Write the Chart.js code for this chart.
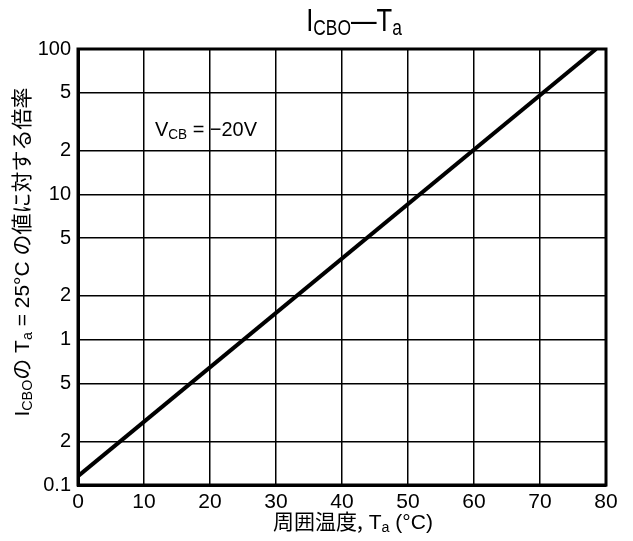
<!DOCTYPE html>
<html><head><meta charset="utf-8">
<script src="https://cdn.jsdelivr.net/npm/chart.js@4/dist/chart.umd.min.js"></script>
<style>html,body{margin:0;padding:0;background:#fff}#wrap{width:633px;height:541px}</style>
</head><body><div id="wrap"><canvas id="c" width="633" height="541"></canvas></div>
<script>
const tempC = [0, 78.5];
const ratio = [0.115, 100];
const xTicks = [0, 10, 20, 30, 40, 50, 60, 70, 80];
const yTickValues = [0.1, 0.2, 0.5, 1, 2, 5, 10, 20, 50, 100];
const yTickLabels = ['0.1', '2', '5', '1', '2', '5', '10', '2', '5', '100'];

const NUMF = '"Liberation Sans Narrow","Liberation Sans",Arial,sans-serif';
const JPF = '"Noto Sans CJK JP","Liberation Sans",sans-serif';

function drawRich(ctx, parts, x, y, size, font, align, sx) {
  sx = sx || 1;
  let w = 0;
  const measured = parts.map(p => {
    const s = p.sub ? size * 0.68 : size;
    ctx.font = s + 'px ' + (p.font || font);
    const mw = ctx.measureText(p.t).width;
    w += mw;
    return {p, s, mw};
  });
  ctx.save();
  ctx.translate(x, y);
  ctx.scale(sx, 1);
  let cx = align === 'center' ? -w / 2 : 0;
  ctx.textBaseline = 'alphabetic';
  ctx.textAlign = 'left';
  for (const m of measured) {
    ctx.font = m.s + 'px ' + (m.p.font || font);
    ctx.fillText(m.p.t, cx, (m.p.sub ? size * 0.12 : 0));
    cx += m.mw;
  }
  ctx.restore();
}

const textPlugin = {
  id: 'texts',
  afterDraw(chart) {
    const ctx = chart.ctx;
    ctx.save();
    ctx.fillStyle = '#000';
    drawRich(ctx, [{t:'I'},{t:'CBO',sub:true},{t:'—T'},{t:'a',sub:true}], 354, 31, 32, NUMF, 'center', 0.8);
    drawRich(ctx, [{t:'V'},{t:'CB',sub:true},{t:' = −20V'}], 155, 136, 21, NUMF, 'left', 0.95);
    drawRich(ctx, [{t:'周囲温度,',font:JPF},{t:' T'},{t:'a',sub:true},{t:' (°C)'}], 353, 529, 21, NUMF, 'center');
    ctx.translate(29, 252);
    ctx.rotate(-Math.PI / 2);
    drawRich(ctx, [{t:'I'},{t:'CBO',sub:true},{t:'の',font:JPF},{t:' T'},{t:'a',sub:true},{t:' = 25°C ',font:NUMF},{t:'の値に対する倍率',font:JPF}], 0, 0, 21, NUMF, 'center');
    ctx.restore();
  }
};

new Chart(document.getElementById('c'), {
  type: 'line',
  data: {
    datasets: [{
      data: tempC.map((x, i) => ({x, y: ratio[i]})),
      borderColor: '#000',
      borderWidth: 4,
      pointRadius: 0,
      fill: false,
      tension: 0
    }]
  },
  options: {
    responsive: false,
    animation: false,
    layout: {padding: {left: 0, right: 27, top: 49, bottom: 0}},
    plugins: {legend: {display: false}, tooltip: {enabled: false}},
    scales: {
      x: {
        type: 'linear', min: 0, max: 80,
        afterBuildTicks: s => { s.ticks = xTicks.map(v => ({value: v})); },
        afterFit: s => { s.height = 56; },
        grid: {color: '#000', lineWidth: 1.5, drawTicks: false},
        border: {color: '#000', width: 3},
        ticks: {color: '#000', font: {family: NUMF, size: 21}, padding: 5, maxRotation: 0, callback: v => String(v)}
      },
      y: {
        type: 'logarithmic', min: 0.1, max: 100,
        afterBuildTicks: s => { s.ticks = yTickValues.map(v => ({value: v})); },
        afterFit: s => { s.width = 78; },
        grid: {color: '#000', lineWidth: 1.5, drawTicks: false},
        border: {color: '#000', width: 3},
        ticks: {color: '#000', font: {family: NUMF, size: 20}, padding: 7,
          callback: (v) => { const i = yTickValues.findIndex(t => Math.abs(t - v) / t < 1e-6); return i >= 0 ? yTickLabels[i] : ''; }}
      }
    }
  },
  plugins: [textPlugin, {
    id: 'frame',
    afterDatasetsDraw(chart) {
      const a = chart.chartArea, ctx = chart.ctx;
      ctx.save();
      ctx.strokeStyle = '#000';
      ctx.lineWidth = 3;
      ctx.strokeRect(a.left, a.top, a.right - a.left, a.bottom - a.top);
      ctx.restore();
    }
  }]
});
</script></body></html>
